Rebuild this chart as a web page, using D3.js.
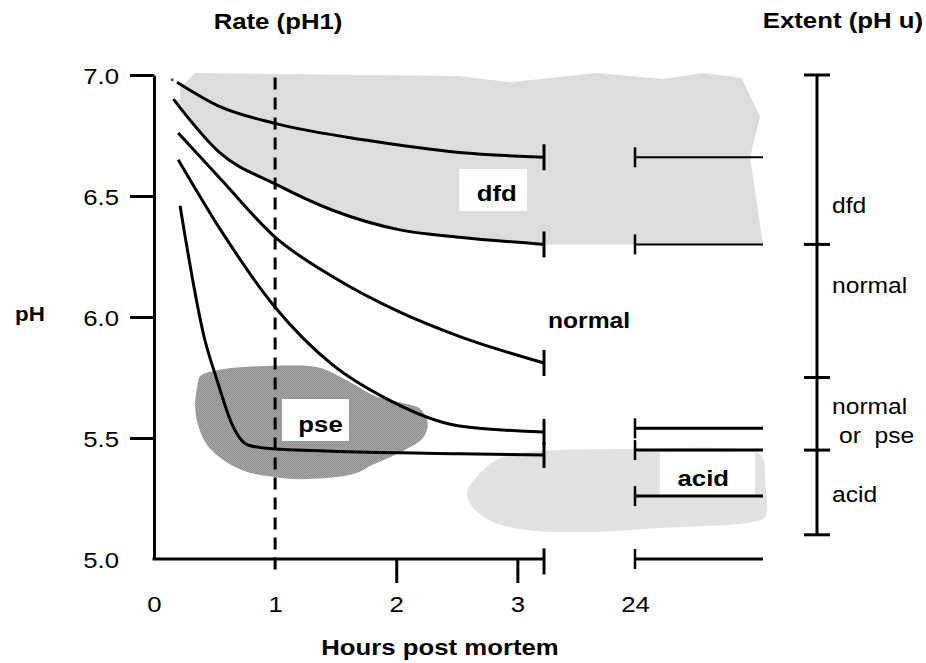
<!DOCTYPE html>
<html>
<head>
<meta charset="utf-8">
<script src="https://d3js.org/d3.v7.min.js"></script>
<style>
  body { margin: 0; background: #fff; }
  text { font-family: "Liberation Sans", Arial, sans-serif; fill: #000; }
</style>
</head>
<body>
<div id="chart"></div>
<script>
// ---- data (hours post mortem, pH) ----
var yTicks = [5.0, 5.5, 6.0, 6.5, 7.0];
var xTicks = [0, 1, 2, 3, 24];
var endHour = 3.22;          // where the rate curves stop
var lateStart = 24, lateEnd = 30;

// five pH decline curves, slow to fast
var curve1 = [[0.19, 6.97], [0.54, 6.87], [1.0, 6.80], [1.76, 6.73], [2.52, 6.68], [3.22, 6.66]];
var curve2 = [[0.16, 6.90], [0.54, 6.68], [1.0, 6.55], [1.48, 6.44], [2.03, 6.36], [2.52, 6.33], [3.22, 6.30]];
var curve3 = [[0.2, 6.76], [0.55, 6.57], [1.0, 6.33], [1.48, 6.165], [2.03, 6.02], [2.52, 5.92], [3.22, 5.81]];
var curve4 = [[0.2, 6.65], [0.55, 6.36], [1.0, 6.04], [1.48, 5.80], [1.89, 5.67], [2.52, 5.55], [3.22, 5.525]];
var curve5 = [[0.215, 6.46], [0.42, 5.905], [0.52, 5.74], [0.65, 5.55], [0.78, 5.47], [1.0, 5.455], [2.52, 5.435], [3.22, 5.43]];
var rateCurves = [curve1, curve2, curve3, curve4, curve5];

// ultimate pH at 24 h
var ultimatePH = [6.66, 6.30, 5.54, 5.45, 5.26, 5.0];
var ultimateWidth = [2, 2, 3, 3, 3, 3];

// extent scale on the right
var extentBreaks = [7.0, 6.3, 5.75, 5.45, 5.1];
var extentNames = ["dfd", "normal", "normal", "or  pse", "acid"];
var extentNamePH = [6.43, 6.10, 5.60, 5.48, 5.235];

// shaded zones
var dfdTop = [[0.34, 7.008], [2.52, 6.996], [2.94, 6.97], [15.3, 7.008], [25.3, 6.983], [27.2, 7.008],
              [29.0, 6.988], [29.86, 6.826], [29.39, 6.66], [30.0, 6.30], [3.22, 6.30]];
var dfdLeft = [[0.215, 6.897], [0.215, 6.946]];
var pseZone = [[0.38, 5.755], [0.52, 5.78], [1.12, 5.80], [1.37, 5.79], [1.62, 5.73], [1.84, 5.67],
               [2.09, 5.64], [2.20, 5.62], [2.26, 5.56], [2.22, 5.50], [2.03, 5.44], [1.81, 5.39],
               [1.64, 5.35], [1.21, 5.33], [0.98, 5.34], [0.77, 5.36], [0.60, 5.40], [0.44, 5.47],
               [0.36, 5.56], [0.34, 5.64], [0.36, 5.72]];
var acidZone = [[2.585, 5.273], [2.69, 5.355], [2.86, 5.417], [3.08, 5.442], [22.17, 5.455], [29.53, 5.446],
                [30.0, 5.417], [30.1, 5.326], [30.1, 5.174], [29.53, 5.153], [25.17, 5.128], [14.41, 5.112],
                [3.08, 5.12], [2.80, 5.153], [2.63, 5.215]];

// boxed labels: [name, h0, h1, pH top, pH bottom, text hour, text pH]
var boxLabels = [
  ["dfd", 2.52, 3.08, 6.612, 6.438, 2.83, 6.48],
  ["pse", 1.057, 1.61, 5.661, 5.488, 1.375, 5.525],
  ["acid", 25.17, 29.63, 5.442, 5.264, 27.2, 5.30]
];

var W = 926, H = 663, STRETCH = 1.12;

var svg = d3.select("#chart").append("svg")
  .attr("width", W).attr("height", H);

var x = d3.scaleLinear().domain([0, endHour, lateStart, lateEnd]).range([154, 544, 635, 763]);
var y = d3.scaleLinear().domain([5, 7]).range([559, 75]);

function px(d) { return x(d[0]); }
function py(d) { return y(d[1]); }
var line = d3.line().x(px).y(py);
var smooth = d3.line().x(px).y(py).curve(d3.curveMonotoneX);
var blob = d3.line().x(px).y(py).curve(d3.curveCatmullRomClosed);

function label(x0, y0, str, size, weight, anchor) {
  return svg.append("text")
    .attr("transform", "translate(" + x0 + "," + y0 + ") scale(" + STRETCH + ",1)")
    .attr("text-anchor", anchor || "middle")
    .style("font-size", size + "px")
    .style("font-weight", weight || "normal")
    .text(str);
}

// texture for the pse zone
var pat = svg.append("defs").append("pattern")
  .attr("id", "dots").attr("patternUnits", "userSpaceOnUse").attr("width", 2).attr("height", 2);
pat.append("rect").attr("width", 2).attr("height", 2).attr("fill", "#a8a8a8");
pat.append("rect").attr("width", 1).attr("height", 1).attr("fill", "#8e8e8e");
pat.append("rect").attr("x", 1).attr("y", 1).attr("width", 1).attr("height", 1).attr("fill", "#8e8e8e");

// dfd zone: jagged top, bottom follows curve 2
var lower = smooth(curve2.slice().reverse()).replace(/^M/, "L");
var dfdPath = line(dfdTop) + lower + line(dfdLeft).replace(/^M/, "L") + "Z";
svg.append("path").attr("d", dfdPath).attr("fill", "#dddddd");

svg.append("path").attr("d", blob(acidZone)).attr("fill", "#e2e2e2");
svg.append("path").attr("d", blob(pseZone)).attr("fill", "url(#dots)");

// white label boxes
svg.selectAll("rect.box").data(boxLabels).enter().append("rect")
  .attr("class", "box")
  .attr("x", function(d) { return x(d[1]); })
  .attr("y", function(d) { return y(d[3]); })
  .attr("width", function(d) { return x(d[2]) - x(d[1]); })
  .attr("height", function(d) { return y(d[4]) - y(d[3]); })
  .attr("fill", "#fff");

// 1 h dashed marker
svg.append("line")
  .attr("x1", x(1)).attr("x2", x(1))
  .attr("y1", y(6.99)).attr("y2", y(4.926))
  .attr("stroke", "#000").attr("stroke-width", 3).attr("stroke-dasharray", "12,8");

// y axis
var yAxis = svg.append("g").attr("transform", "translate(" + x(0) + ",0)")
  .call(d3.axisLeft(y).tickValues(yTicks).tickSize(24).tickSizeOuter(0).tickPadding(11)
    .tickFormat(d3.format(".1f")));
yAxis.select(".domain").attr("stroke-width", 3);
yAxis.selectAll(".tick line").attr("stroke-width", 3)
  .filter(function(d) { return d === 5; }).remove();
yAxis.selectAll(".tick text")
  .attr("x", -35 / STRETCH).attr("dy", "0.36em")
  .attr("transform", "scale(" + STRETCH + ",1)")
  .style("font-size", "23px").attr("font-family", null);

// x axis
var xAxis = svg.append("g").attr("transform", "translate(0," + y(5) + ")")
  .call(d3.axisBottom(x).tickValues(xTicks).tickSize(24).tickPadding(13));
xAxis.select(".domain").remove();
xAxis.selectAll(".tick line").attr("stroke-width", 3)
  .filter(function(d) { return d === 0 || d === 1 || d === 24; }).remove();
xAxis.selectAll(".tick text")
  .attr("transform", "scale(" + STRETCH + ",1)")
  .style("font-size", "23px").attr("font-family", null);

svg.append("line")
  .attr("x1", x(0) - 1.5).attr("x2", x(endHour))
  .attr("y1", y(5)).attr("y2", y(5))
  .attr("stroke", "#000").attr("stroke-width", 3);

// rate curves
svg.selectAll("path.rate").data(rateCurves).enter().append("path")
  .attr("class", "rate")
  .attr("d", smooth)
  .attr("fill", "none").attr("stroke", "#000").attr("stroke-width", 3);

svg.append("circle").attr("cx", x(0.15)).attr("cy", y(6.98)).attr("r", 1.5).attr("fill", "#555");

// end bars at ~3 h (curves + baseline)
var ends = rateCurves.map(function(c) { return c[c.length - 1][1]; }).concat([4.99]);
svg.selectAll("line.endbar").data(ends).enter().append("line")
  .attr("class", "endbar")
  .attr("x1", x(endHour)).attr("x2", x(endHour))
  .attr("y1", function(d) { return y(d) - 13; })
  .attr("y2", function(d) { return y(d) + 13; })
  .attr("stroke", "#000").attr("stroke-width", 3);

// ultimate pH at 24 h
var late = svg.selectAll("g.late").data(ultimatePH).enter().append("g").attr("class", "late");
late.append("line")
  .attr("x1", x(lateStart)).attr("x2", x(lateStart))
  .attr("y1", function(d) { return y(d) - 10; })
  .attr("y2", function(d) { return y(d) + 10; })
  .attr("stroke", "#000").attr("stroke-width", 2.5);
late.append("line")
  .attr("x1", x(lateStart)).attr("x2", x(lateEnd))
  .attr("y1", function(d) { return y(d); })
  .attr("y2", function(d) { return y(d); })
  .attr("stroke", "#000")
  .attr("stroke-width", function(d, i) { return ultimateWidth[i]; });

// extent scale
var ex = 817;
svg.append("line")
  .attr("x1", ex).attr("x2", ex)
  .attr("y1", y(extentBreaks[0])).attr("y2", y(extentBreaks[extentBreaks.length - 1]))
  .attr("stroke", "#000").attr("stroke-width", 3);
svg.selectAll("line.ebreak").data(extentBreaks).enter().append("line")
  .attr("class", "ebreak")
  .attr("x1", ex - 13).attr("x2", ex + 13)
  .attr("y1", function(d) { return y(d); }).attr("y2", function(d) { return y(d); })
  .attr("stroke", "#000").attr("stroke-width", 3);
extentNames.forEach(function(n, i) {
  label(i === 3 ? 839 : 832, y(extentNamePH[i]), n, 22, "normal", "start").style("white-space", "pre");
});

// boxed labels
boxLabels.forEach(function(b) {
  label(x(b[5]), y(b[6]), b[0], 23, "bold");
});
label(589, 328, "normal", 22, "bold");

// titles
label(278, 29, "Rate (pH1)", 23, "bold");
label(923, 28, "Extent (pH u)", 23, "bold", "end");
label(30, 321, "pH", 20, "bold");
label(440, 655, "Hours post mortem", 23, "bold");
</script>
</body>
</html>
